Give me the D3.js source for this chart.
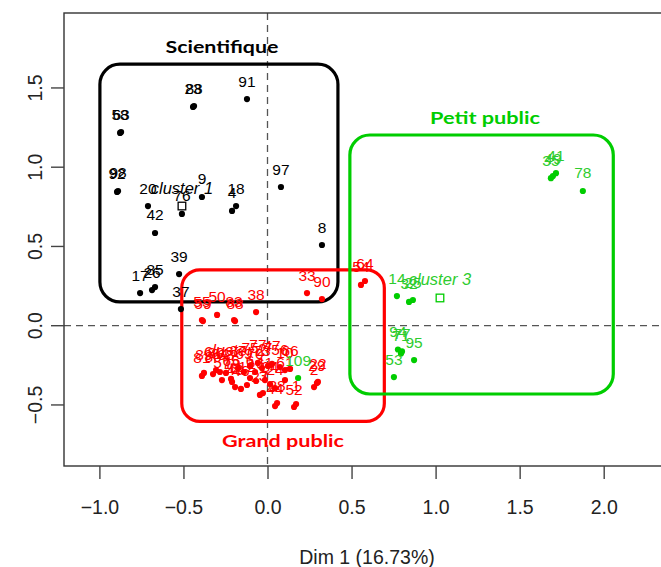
<!DOCTYPE html>
<html>
<head>
<meta charset="utf-8">
<script src="https://cdn.jsdelivr.net/npm/d3@7"></script>
<style>
  html, body { margin: 0; padding: 0; background: #fff; }
  svg { display: block; }
</style>
</head>
<body>
<svg id="chart" width="661" height="567"></svg>
<script>
// Individuals on the first factorial plane, coloured by cluster
const xTicks = [-1.0, -0.5, 0.0, 0.5, 1.0, 1.5, 2.0];
const yTicks = [-0.5, 0.0, 0.5, 1.0, 1.5];
const xTitle = "Dim 1 (16.73%)";

// cluster 1 : Scientifique
const sciLabels = ["23","88","91","58","63","92","98","97","20","9","76","18","4","42","8","39","17","26","85","37"];
const sciX = [-0.443,-0.437,-0.122,-0.877,-0.871,-0.895,-0.889,0.080,-0.711,-0.390,-0.509,-0.187,-0.211,-0.669,0.324,-0.526,-0.758,-0.687,-0.669,-0.515];
const sciY = [1.380,1.386,1.430,1.216,1.222,0.844,0.850,0.875,0.755,0.812,0.705,0.755,0.724,0.585,0.509,0.326,0.206,0.225,0.244,0.105];

// cluster 2 : Grand public
const gpLabels = ["54","64","33","90","38","50","55","59","83","88",
  "81","89","86","80","84","68","65","48","46","12",
  "87","69","75","70","77","73","7","47","6","16",
  "27","3","28","44","10","56","66","52","1","2",
  "29","22","61","24","34","19","57","11"];
const gpX = [0.556,0.580,0.235,0.324,-0.068,-0.300,-0.390,-0.384,-0.199,-0.193,
  -0.390,-0.378,-0.324,-0.306,-0.283,-0.247,-0.217,-0.193,-0.158,-0.122,
  -0.175,-0.140,-0.104,-0.074,-0.057,-0.033,0.003,0.027,-0.104,-0.068,
  -0.045,-0.027,0.057,0.045,0.104,0.074,0.134,0.158,0.170,0.277,
  0.294,0.300,0.104,0.045,0.015,-0.211,-0.271,-0.015];
const gpY = [0.257,0.282,0.206,0.168,0.086,0.068,0.036,0.029,0.036,0.029,
  -0.317,-0.298,-0.305,-0.280,-0.292,-0.298,-0.336,-0.387,-0.399,-0.374,
  -0.267,-0.292,-0.254,-0.292,-0.235,-0.267,-0.254,-0.241,-0.330,-0.349,
  -0.437,-0.425,-0.488,-0.507,-0.280,-0.261,-0.273,-0.513,-0.494,-0.387,
  -0.362,-0.355,-0.343,-0.393,-0.368,-0.355,-0.343,-0.343];

// cluster 3 : Petit public
const ppLabels = ["35","49","41","78","14","32","25","94","71","77","95","53","109"];
const ppX = [1.686,1.698,1.716,1.876,0.770,0.842,0.865,0.776,0.794,0.800,0.872,0.752,0.182];
const ppY = [0.931,0.944,0.962,0.850,0.187,0.150,0.162,-0.150,-0.175,-0.162,-0.217,-0.324,-0.330];

// cluster centres
const centreLabels = ["cluster 1","cluster 2","cluster 3"];
const centreX = [-0.509,-0.193,1.026];
const centreY = [0.755,-0.267,0.175];

// hand-drawn groupings: [x0, x1, y0, y1] in plane coordinates
const groupNames = ["Scientifique","Grand public","Petit public"];
const groupBoxes = [[-0.997,0.419,0.150,1.650],[-0.510,0.695,-0.604,0.352],[0.490,2.057,-0.431,1.203]];

const COL = { black: "#000000", red: "#ff0000", green: "#00cd00", greenText: "#2ecc2e" };

const svg = d3.select("#chart");
const plot = { left: 64, top: 13, right: 672, bottom: 466 };

const x = d3.scaleLinear().domain([-1, 2]).range([99.4, 603.7]);
const y = d3.scaleLinear().domain([-0.5, 1.5]).range([404.95, 87.95]);

// reference axes through the origin
svg.append("line")
  .attr("x1", x(0)).attr("x2", x(0))
  .attr("y1", plot.top).attr("y2", plot.bottom)
  .attr("stroke", "#555").attr("stroke-width", 1.3).attr("stroke-dasharray", "7,5");
svg.append("line")
  .attr("x1", plot.left).attr("x2", plot.right)
  .attr("y1", y(0)).attr("y2", y(0))
  .attr("stroke", "#555").attr("stroke-width", 1.3).attr("stroke-dasharray", "7,5");

// frame
svg.append("rect")
  .attr("x", plot.left).attr("y", plot.top)
  .attr("width", plot.right - plot.left).attr("height", plot.bottom - plot.top)
  .attr("fill", "none").attr("stroke", "#333").attr("stroke-width", 1.4);

// axes
const axisFont = "'Liberation Sans', Arial, sans-serif";
const xAxis = svg.append("g")
  .attr("transform", `translate(0,${plot.bottom})`)
  .call(d3.axisBottom(x).tickValues(xTicks).tickFormat(d3.format(".1f")).tickSize(13).tickSizeOuter(0).tickPadding(21));
xAxis.select(".domain").remove();
xAxis.selectAll("line").attr("stroke", "#444").attr("stroke-width", 1.4);
xAxis.selectAll("text").attr("font-family", axisFont).attr("font-size", 19.5).attr("fill", "#222");

const yAxis = svg.append("g")
  .attr("transform", `translate(${plot.left},0)`)
  .call(d3.axisLeft(y).tickValues(yTicks).tickFormat(d3.format(".1f")).tickSize(13).tickSizeOuter(0));
yAxis.select(".domain").remove();
yAxis.selectAll("line").attr("stroke", "#444").attr("stroke-width", 1.4);
yAxis.selectAll("text")
  .attr("font-family", axisFont).attr("font-size", 19.5).attr("fill", "#222")
  .attr("x", 0).attr("dy", null)
  .attr("text-anchor", "middle")
  .attr("transform", d => `translate(-29,${y(d)}) rotate(-90)`)
  .attr("y", 0)
  .attr("dominant-baseline", "central");
yAxis.selectAll(".tick").attr("transform", d => `translate(0,0)`);
yAxis.selectAll(".tick line").attr("y1", d => y(d)).attr("y2", d => y(d)).attr("x2", -13);

svg.append("text")
  .attr("x", 367).attr("y", 564)
  .attr("text-anchor", "middle")
  .attr("font-family", axisFont).attr("font-size", 19.5).attr("fill", "#222")
  .text(xTitle);

// group boxes
const boxColours = [COL.black, COL.red, COL.green];
const boxRadius = [20, 18, 20];
groupBoxes.forEach((b, i) => {
  svg.append("rect")
    .attr("x", x(b[0])).attr("y", y(b[3]))
    .attr("width", x(b[1]) - x(b[0])).attr("height", y(b[2]) - y(b[3]))
    .attr("rx", boxRadius[i]).attr("ry", boxRadius[i])
    .attr("fill", "none").attr("stroke", boxColours[i]).attr("stroke-width", 3.2);
});

// group titles
const titleFont = "Lato, 'Open Sans', sans-serif";
const titlePos = [[222, 53, 113], [283, 447, 122], [485, 124, 110]];
groupNames.forEach((n, i) => {
  svg.append("text")
    .attr("x", titlePos[i][0]).attr("y", titlePos[i][1])
    .attr("text-anchor", "middle")
    .attr("font-family", titleFont).attr("font-weight", 700).attr("font-size", 17.5)
    .attr("textLength", titlePos[i][2]).attr("lengthAdjust", "spacingAndGlyphs")
    .attr("fill", boxColours[i])
    .text(n);
});

// individuals
const groups = [
  { labels: sciLabels, xs: sciX, ys: sciY, col: COL.black, text: COL.black },
  { labels: gpLabels, xs: gpX, ys: gpY, col: COL.red, text: COL.red },
  { labels: ppLabels, xs: ppX, ys: ppY, col: COL.green, text: COL.greenText }
];
const labelFont = "'Liberation Sans', Arial, sans-serif";

groups.forEach(g => {
  svg.append("g").selectAll("circle")
    .data(g.labels.map((l, i) => ({ l, x: g.xs[i], y: g.ys[i] })))
    .join("circle")
    .attr("cx", d => x(d.x)).attr("cy", d => y(d.y))
    .attr("r", 3.1).attr("fill", g.col);
});

// cluster centres (open squares)
const centreCols = [COL.black, COL.red, COL.green];
const centreText = [COL.black, COL.red, COL.greenText];
centreLabels.forEach((c, i) => {
  svg.append("rect")
    .attr("x", x(centreX[i]) - 3.8).attr("y", y(centreY[i]) - 3.8)
    .attr("width", 7.6).attr("height", 7.6)
    .attr("fill", "none").attr("stroke", centreCols[i]).attr("stroke-width", 1.3);
});

groups.forEach(g => {
  svg.append("g").selectAll("text")
    .data(g.labels.map((l, i) => ({ l, x: g.xs[i], y: g.ys[i] })))
    .join("text")
    .attr("x", d => x(d.x)).attr("y", d => y(d.y) - 12.5)
    .attr("text-anchor", "middle")
    .attr("font-family", labelFont).attr("font-size", 15.5)
    .attr("fill", g.text)
    .text(d => d.l);
});

centreLabels.forEach((c, i) => {
  svg.append("text")
    .attr("x", x(centreX[i])).attr("y", y(centreY[i]) - 12.5)
    .attr("text-anchor", "middle")
    .attr("font-family", labelFont).attr("font-size", 16.5).attr("font-style", "italic")
    .attr("fill", centreText[i])
    .text(c);
});
</script>
</body>
</html>
